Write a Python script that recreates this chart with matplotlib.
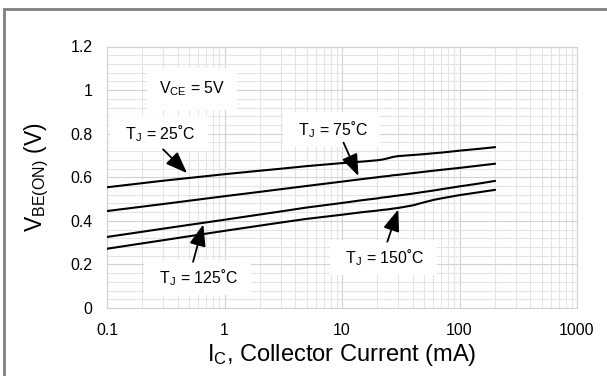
import matplotlib
matplotlib.use('Agg')
import matplotlib.pyplot as plt
from matplotlib.patches import Rectangle
from matplotlib.ticker import MultipleLocator, LogLocator, FixedLocator, FixedFormatter, NullFormatter

plt.rcParams['font.family'] = ['Liberation Sans', 'DejaVu Sans']
plt.rcParams['mathtext.default'] = 'regular'

# collector current (mA) and V_BE(ON) (V)
ic = [0.1, 0.3, 1, 2, 3, 5, 10, 15, 20, 22, 25, 27, 30, 40, 50, 60, 70, 100, 150, 200]
vbe_25 = [0.554, 0.584, 0.614, 0.630, 0.639, 0.651, 0.665, 0.672, 0.678, 0.681, 0.688,
          0.693, 0.697, 0.702, 0.706, 0.710, 0.713, 0.722, 0.731, 0.738]
vbe_75 = [0.445, 0.477, 0.513, 0.533, 0.545, 0.560, 0.580, 0.592, 0.600, 0.603, 0.606,
          0.609, 0.611, 0.619, 0.625, 0.630, 0.634, 0.643, 0.654, 0.662]
vbe_125 = [0.326, 0.364, 0.405, 0.429, 0.443, 0.461, 0.482, 0.495, 0.503, 0.507, 0.510,
           0.513, 0.516, 0.525, 0.533, 0.539, 0.545, 0.558, 0.572, 0.583]
vbe_150 = [0.272, 0.311, 0.354, 0.378, 0.392, 0.409, 0.428, 0.440, 0.447, 0.450, 0.453,
           0.456, 0.459, 0.471, 0.485, 0.496, 0.503, 0.518, 0.532, 0.542]

xticks = [0.1, 1, 10, 100, 1000]
xtick_labels = ["0.1", "1", "10", "100", "1000"]
yticks = [0, 0.2, 0.4, 0.6, 0.8, 1.0, 1.2]
ytick_labels = ["0", "0.2", "0.4", "0.6", "0.8", "1", "1.2"]

# label text, label centre, arrow tail, arrow tip (data coords)
labels = ["T$_J$ = 25˚C", "T$_J$ = 75˚C", "T$_J$ = 125˚C", "T$_J$ = 150˚C"]
label_pos = [(0.277, 0.801), (8.14, 0.819), (0.587, 0.139), (22.5, 0.233)]
arrow_tail = [(0.30, 0.728), (10.3, 0.759), (0.54, 0.212), (24.3, 0.304)]
arrow_tip = [(0.48, 0.619), (13.8, 0.606), (0.66, 0.384), (30.1, 0.452)]

fig = plt.figure(figsize=(6.07, 3.76), dpi=100)
ax = fig.add_axes([107/607, 68/376, 470/607, 261.5/376])

for v in [vbe_25, vbe_75, vbe_125, vbe_150]:
    ax.plot(ic, v, color='black', lw=1.5, zorder=3)

ax.set_xscale('log')
ax.set_xlim(0.1, 1000)
ax.set_ylim(0, 1.2)
ax.xaxis.set_major_locator(FixedLocator(xticks))
ax.xaxis.set_major_formatter(FixedFormatter(xtick_labels))
ax.xaxis.set_minor_locator(LogLocator(base=10, subs=range(2, 10)))
ax.xaxis.set_minor_formatter(NullFormatter())
ax.yaxis.set_major_locator(FixedLocator(yticks))
ax.yaxis.set_major_formatter(FixedFormatter(ytick_labels))
ax.yaxis.set_minor_locator(MultipleLocator(0.04))

ax.grid(which='major', color='#d2d2d2', lw=0.8)
ax.grid(which='minor', color='#e4e4e4', lw=0.8)
ax.set_axisbelow(True)
for s in ax.spines.values():
    s.set_color('#d2d2d2')
    s.set_linewidth(0.8)
ax.tick_params(which='both', length=0, labelsize=11.4, pad=10.5, colors='black')

ax.set_xlabel("I$_C$, Collector Current (mA)", fontsize=17, labelpad=3)
ax.set_ylabel("V$_{BE(ON)}$ (V)", fontsize=16.5, labelpad=14)

box = dict(boxstyle='square,pad=0.45', fc='white', ec='none')
ax.text(0.53, 1.005, "V$_{CE}$ = 5V", fontsize=11.4, ha='center', va='center',
        bbox=dict(boxstyle='square,pad=0.75', fc='white', ec='none'), zorder=2)
for txt, pos, tail, tip in zip(labels, label_pos, arrow_tail, arrow_tip):
    ax.text(pos[0], pos[1], "  " + txt + "  ", fontsize=11.4, ha='center', va='center',
            bbox=box, zorder=2)
    ax.annotate("", xy=tip, xytext=tail,
                arrowprops=dict(arrowstyle='-|>,head_length=1.1,head_width=0.42',
                                color='black', lw=1.3, shrinkA=0, shrinkB=0,
                                mutation_scale=12), zorder=4)

# grey frame around the whole picture
fig.patches.append(Rectangle((4/607, -0.1), 1.2, 1.1 - 9/376, transform=fig.transFigure,
                             fill=False, ec='#808080', lw=2))

fig.savefig('out.png', dpi=100)
